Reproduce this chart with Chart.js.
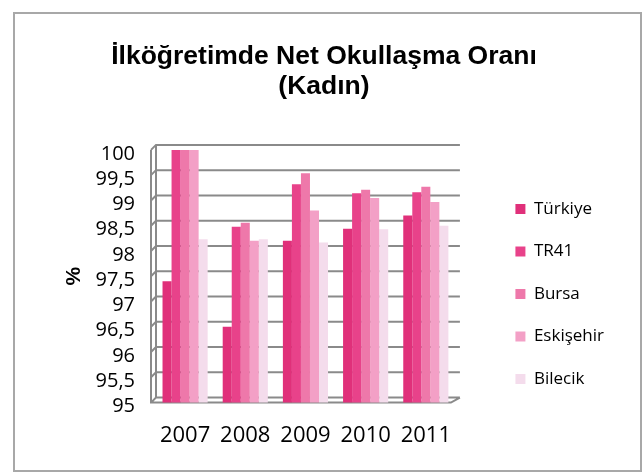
<!DOCTYPE html>
<html>
<head>
<meta charset="utf-8">
<script src="https://cdn.jsdelivr.net/npm/chart.js@4"></script>
<style>
  body { margin: 0; background: #fff; }
  #wrap { position: absolute; left: 13px; top: 12px; width: 625px; height: 456px; border: 2px solid #a8a8a8; }
</style>
</head>
<body>
<div id="wrap"><canvas id="chart"></canvas></div>
<script>
const years = ["2007", "2008", "2009", "2010", "2011"];
const turkiye = [97.4, 96.5, 98.2, 98.44, 98.7];
const tr41 = [100, 98.48, 99.32, 99.14, 99.16];
const bursa = [100, 98.56, 99.54, 99.21, 99.27];
const eskisehir = [100, 98.2, 98.8, 99.05, 98.97];
const bilecik = [98.23, 98.23, 98.17, 98.43, 98.5];

const titleLines = ["İlköğretimde Net Okullaşma Oranı", "(Kadın)"];

// back wall, left wall and floor drawn like the old 3D excel charts
const wall3d = {
  id: 'wall3d',
  beforeDatasetsDraw(chart) {
    const {ctx, chartArea: a, scales: {y}} = chart;
    const dx = 5, dy = 5, front = a.left - 4;
    ctx.save();
    ctx.strokeStyle = '#8a8a8a';
    ctx.lineWidth = 2;
    ctx.beginPath();
    y.ticks.forEach(t => {
      const py = y.getPixelForValue(t.value);
      ctx.moveTo(front, py);
      ctx.lineTo(front + dx, py - dy);
      ctx.lineTo(a.right + 4, py - dy);
    });
    ctx.moveTo(front, a.top);
    ctx.lineTo(front, a.bottom);
    ctx.lineTo(a.right - 5, a.bottom);
    ctx.lineTo(a.right + 4, a.bottom - dy);
    ctx.moveTo(front + dx, a.top - dy);
    ctx.lineTo(front + dx, a.bottom - dy);
    ctx.stroke();
    ctx.restore();
  }
};

new Chart(document.getElementById('chart'), {
  type: 'bar',
  data: {
    labels: years,
    datasets: [
      { label: 'Türkiye', data: turkiye, backgroundColor: '#e0307a' },
      { label: 'TR41', data: tr41, backgroundColor: '#e8428a' },
      { label: 'Bursa', data: bursa, backgroundColor: '#ee78aa' },
      { label: 'Eskişehir', data: eskisehir, backgroundColor: '#f3a0c6' },
      { label: 'Bilecik', data: bilecik, backgroundColor: '#f4dcec' }
    ]
  },
  plugins: [wall3d],
  options: {
    responsive: true,
    maintainAspectRatio: false,
    animation: false,
    layout: { padding: { left: 19, right: 26, top: 0, bottom: 1 } },
    datasets: { bar: { categoryPercentage: 0.75, barPercentage: 1.0 } },
    plugins: {
      title: {
        display: true,
        text: titleLines,
        color: '#000',
        font: { family: '"Liberation Sans", Arial', size: 26.5, weight: 'bold', lineHeight: 1.13 },
        padding: { top: 28, bottom: 48 }
      },
      legend: {
        position: 'right',
        maxWidth: 160,
        title: { display: true, text: '', font: { size: 10, lineHeight: 1 }, padding: { top: 95, bottom: 0 } },
        labels: {
          color: '#000',
          font: { family: '"Open Sans"', size: 17 },
          boxWidth: 10,
          boxHeight: 10,
          padding: 25.5
        }
      },
      tooltip: { enabled: false }
    },
    scales: {
      x: {
        grid: { display: false, drawTicks: false },
        border: { display: false },
        ticks: { color: '#000', font: { family: '"Open Sans"', size: 22 }, padding: 20 }
      },
      y: {
        min: 95,
        max: 100,
        afterFit: s => { s.width = 121; },
        ticks: {
          stepSize: 0.5,
          autoSkip: false,
          color: '#000',
          font: { family: '"Open Sans"', size: 20 },
          padding: 20,
          labelOffset: 4,
          callback: v => String(v).replace('.', ',')
        },
        grid: { display: false, drawTicks: false },
        border: { display: false },
        title: {
          display: true,
          text: '%',
          color: '#000',
          font: { family: '"Liberation Sans", Arial', size: 21, weight: 'bold' },
          padding: { top: 28, bottom: 0 }
        }
      },
      gap: {
        position: 'right',
        min: 0,
        max: 1,
        grid: { display: false, drawTicks: false },
        border: { display: false },
        ticks: { display: false },
        afterFit: s => { s.width = 34; }
      }
    }
  }
});
</script>
</body>
</html>
